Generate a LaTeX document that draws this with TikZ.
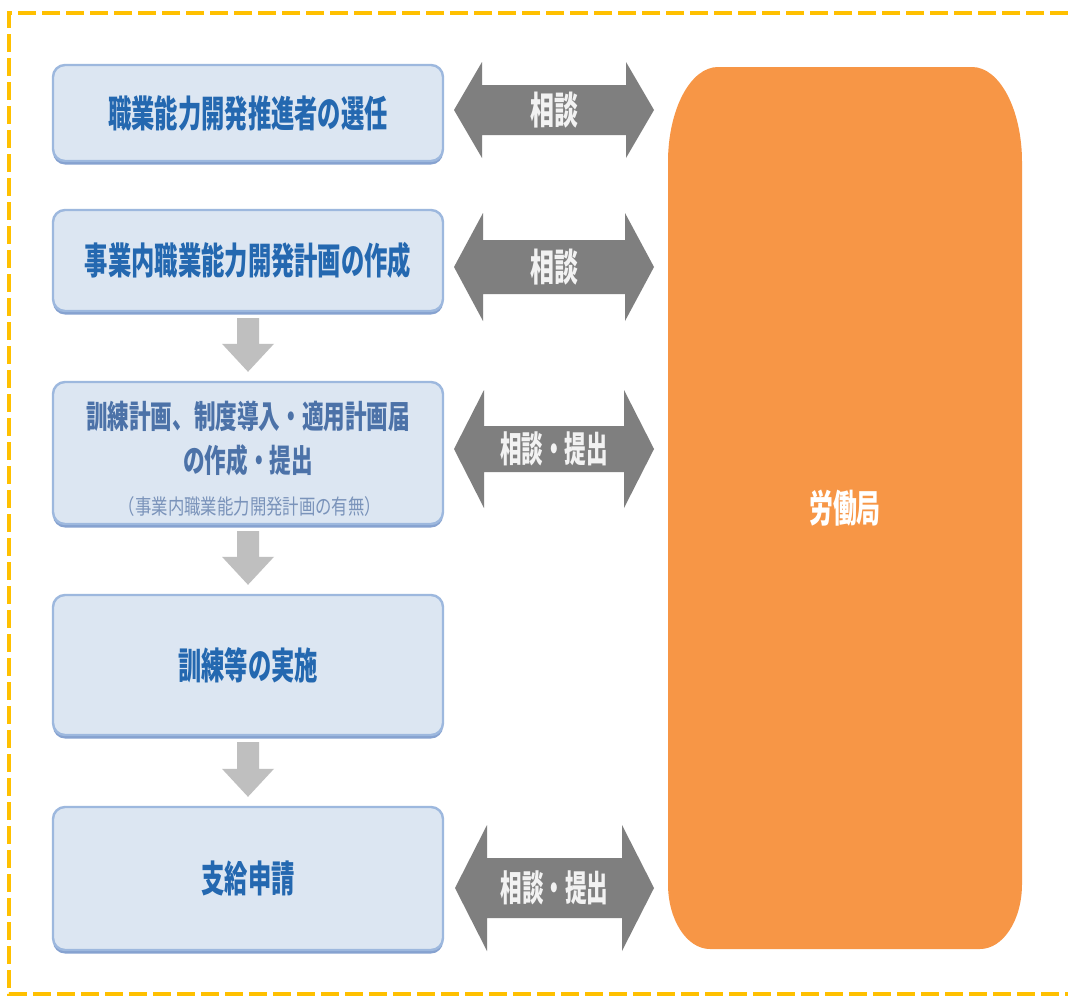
\documentclass[tikz,border=0pt]{standalone}
\usepackage{fontspec}
\usetikzlibrary{calc}
\newfontfamily\jp{Noto Sans CJK JP}[FakeStretch=0.63]
\newfontfamily\jpm{Noto Sans CJK JP}[FakeStretch=0.675]
\newfontfamily\jps{Noto Sans CJK JP}[FakeStretch=0.78]
\newfontfamily\jpa{Noto Sans CJK JP}[FakeStretch=0.6]
\definecolor{frameyel}{HTML}{FFC000}
\definecolor{boxfill}{HTML}{DCE6F2}
\definecolor{boxedge}{HTML}{9DB8DE}
\definecolor{boxshadow}{HTML}{86A2D0}
\definecolor{boxtext}{HTML}{2468B0}
\definecolor{boxtextb}{HTML}{4C72A8}
\definecolor{boxtextc}{HTML}{7A93BA}
\definecolor{dblgrey}{HTML}{7F7F7F}
\definecolor{downgrey}{HTML}{BFBFBF}
\definecolor{orangebox}{HTML}{F79646}
\newcommand\dblarr[5]{% left, right, head half, shaft half, head length
  \fill[dblgrey] (#1) -- ($(#1)+(#5,-#3)$) -- ($(#1)+(#5,-#4)$) -- ($(#2)+(-#5,-#4)$)
    -- ($(#2)+(-#5,-#3)$) -- (#2) -- ($(#2)+(-#5,#3)$) -- ($(#2)+(-#5,#4)$)
    -- ($(#1)+(#5,#4)$) -- ($(#1)+(#5,#3)$) -- cycle;}
\newcommand\downarr[2]{% from node, to node
  \coordinate (ds) at ($(#1.south)+(0,6)$);
  \coordinate (dt) at ($(#2.north)+(0,-9)$);
  \fill[downgrey] ($(ds)+(-11,0)$) -- ($(ds)+(11,0)$) -- ($(dt)+(11,-28)$) -- ($(dt)+(26,-28)$)
    -- (dt) -- ($(dt)+(-26,-28)$) -- ($(dt)+(-11,-28)$) -- cycle;}
\begin{document}
\begin{tikzpicture}[x=1pt,y=-1pt,
  box/.style={draw=boxedge, line width=2.4pt, fill=boxfill, rounded corners=12pt,
    minimum width=390pt, inner sep=0pt,
    preaction={fill=boxshadow, transform canvas={yshift=-3.5pt}}},
  bigtxt/.style={font=\jp\bfseries\fontsize{37pt}{40pt}\selectfont, text=boxtext},
  midtxt/.style={font=\jpm\bfseries\fontsize{32pt}{34pt}\selectfont, text=boxtextb, inner sep=0pt},
  smalltxt/.style={font=\jps\fontsize{21pt}{22pt}\selectfont, text=boxtextc, inner sep=0pt},
  arrtxt/.style={font=\jp\bfseries\fontsize{38pt}{40pt}\selectfont, text=white!95!black, inner sep=0pt},
  arrtxtb/.style={font=\jpa\bfseries\fontsize{36pt}{38pt}\selectfont, text=white!95!black, inner sep=0pt},
  orgtxt/.style={font=\jp\bfseries\fontsize{38pt}{40pt}\selectfont, text=white, inner sep=0pt}]
\useasboundingbox (0,0) rectangle (1068,996);
\fill[white] (0,0) rectangle (1068,996);
% frame
\draw[frameyel, line width=4pt, dash pattern=on 18pt off 6pt] (1068,13) -- (9,13) -- (9,994) -- (1068,994);
% boxes
\node[box, minimum height=96pt, bigtxt] (b1) at (248,113) {職業能力開発推進者の選任};
\node[box, minimum height=101pt, bigtxt] (b2) at (248,260.5) {事業内職業能力開発計画の作成};
\node[box, minimum height=142pt] (b3) at (248,453) {};
\node[midtxt] (b3a) at (248,416) {訓練計画、制度導入・適用計画届};
\node[midtxt] (b3b) at (248,460) {の作成・提出};
\node[smalltxt] (b3c) at (250,507) {（事業内職業能力開発計画の有無）};
\node[box, minimum height=140pt, bigtxt] (b4) at (248,665) {訓練等の実施};
\node[box, minimum height=143pt, bigtxt] (b5) at (248,878.5) {支給申請};
% down arrows
\downarr{b2}{b3}
\downarr{b3}{b4}
\downarr{b4}{b5}
% orange office
\fill[orangebox] (668,162) .. controls (668,109.6) and (690.4,67) .. (718,67) -- (972,67)
  .. controls (999.6,67) and (1022,109.6) .. (1022,162) -- (1022,884)
  .. controls (1022,919.9) and (1003.2,949) .. (980,949) -- (710,949)
  .. controls (686.8,949) and (668,919.9) .. (668,884) -- cycle;
\node[orgtxt] (kyoku) at (845,508) {労働局};
% double arrows
\coordinate (a1L) at (454,110); \coordinate (a1R) at (654,110);
\coordinate (a2L) at (454,267); \coordinate (a2R) at (654,267);
\coordinate (a3L) at (454,449); \coordinate (a3R) at (654,449);
\coordinate (a4L) at (455,888); \coordinate (a4R) at (654,888);
\dblarr{a1L}{a1R}{48}{25}{28}
\dblarr{a2L}{a2R}{54}{27}{29}
\dblarr{a3L}{a3R}{59}{23}{30}
\dblarr{a4L}{a4R}{63}{30}{32}
\node[arrtxt] (t1) at ($(a1L)!0.5!(a1R)$) {相談};
\node[arrtxt] (t2) at ($(a2L)!0.5!(a2R)$) {相談};
\node[arrtxtb] (t3) at ($(a3L)!0.5!(a3R)$) {相談・提出};
\node[arrtxtb] (t4) at ($(a4L)!0.5!(a4R)$) {相談・提出};
\end{tikzpicture}
\end{document}
